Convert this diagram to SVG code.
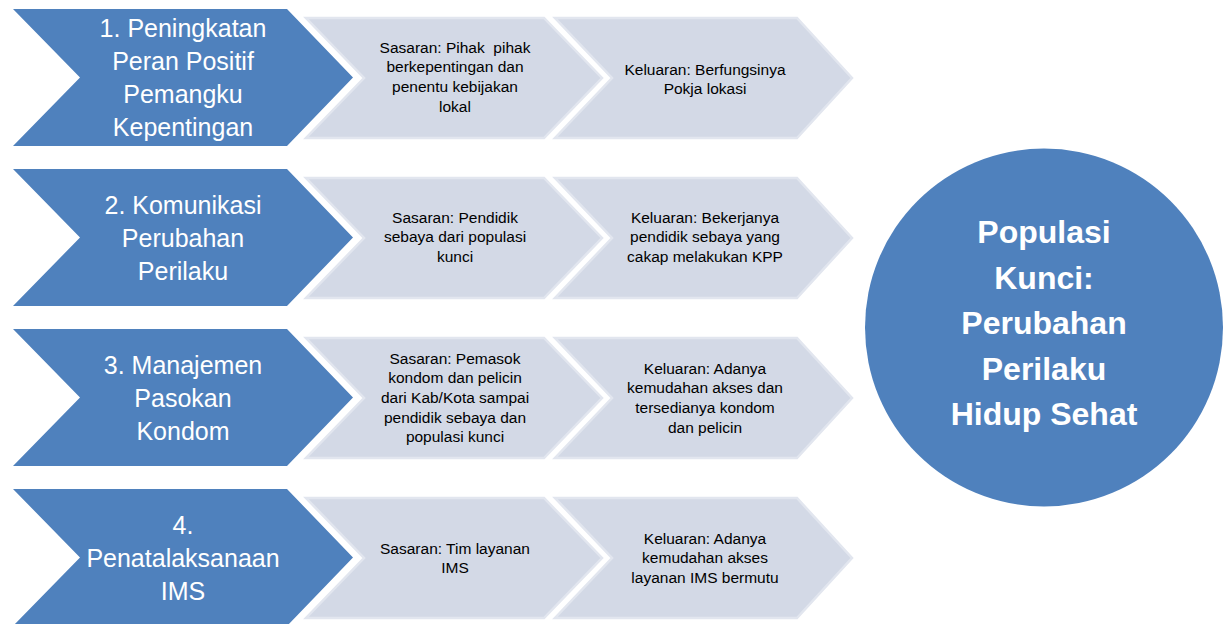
<svg xmlns="http://www.w3.org/2000/svg" width="1226" height="624" viewBox="0 0 1226 624">
<style>
.blue{fill:#4f81bd;}
.grey{fill:#d3d9e6;stroke:#e2e6ef;stroke-width:2.5;stroke-linejoin:miter;}
.bt{font-family:"Liberation Sans",Arial,sans-serif;font-size:25px;fill:#ffffff;text-anchor:middle;}
.gt{font-family:"Liberation Sans",Arial,sans-serif;font-size:15.5px;fill:#000000;text-anchor:middle;}
.ct{font-family:"Liberation Sans",Arial,sans-serif;font-size:32px;font-weight:bold;fill:#ffffff;text-anchor:middle;}
</style>
<defs>
<path id="bchev" d="M13,9 L287,9 L353,77.5 L287,146 L13,146 L80,77.5 Z"/>
<path id="g1chev" d="M306,18 L544,18 L602,78 L544,138 L306,138 L364,78 Z"/>
<path id="g2chev" d="M555,18 L797,18 L852,78 L797,138 L555,138 L612,78 Z"/>
</defs>
<rect width="1226" height="624" fill="#ffffff"/>

<g id="row1">
<g id="step1"><use href="#bchev" class="blue"/>
<text class="bt"><tspan x="183" y="37">1. Peningkatan</tspan><tspan x="183" y="70">Peran Positif</tspan><tspan x="183" y="103">Pemangku</tspan><tspan x="183" y="136">Kepentingan</tspan></text></g>
<g id="sasaran1"><use href="#g1chev" class="grey"/>
<text class="gt" xml:space="preserve"><tspan x="455" y="52.5">Sasaran: Pihak  pihak</tspan><tspan x="455" y="72.2">berkepentingan dan</tspan><tspan x="455" y="91.9">penentu kebijakan</tspan><tspan x="455" y="111.6">lokal</tspan></text></g>
<g id="keluaran1"><use href="#g2chev" class="grey"/>
<text class="gt"><tspan x="705" y="74.5">Keluaran: Berfungsinya</tspan><tspan x="705" y="94">Pokja lokasi</tspan></text></g>
</g>

<g id="row2" transform="translate(0,160)">
<g id="step2"><use href="#bchev" class="blue"/>
<text class="bt"><tspan x="183" y="53.5">2. Komunikasi</tspan><tspan x="183" y="86.5">Perubahan</tspan><tspan x="183" y="119.5">Perilaku</tspan></text></g>
<g id="sasaran2"><use href="#g1chev" class="grey"/>
<text class="gt"><tspan x="455" y="62.5">Sasaran: Pendidik</tspan><tspan x="455" y="82.2">sebaya dari populasi</tspan><tspan x="455" y="101.9">kunci</tspan></text></g>
<g id="keluaran2"><use href="#g2chev" class="grey"/>
<text class="gt"><tspan x="705" y="62.5">Keluaran: Bekerjanya</tspan><tspan x="705" y="82.2">pendidik sebaya yang</tspan><tspan x="705" y="101.9">cakap melakukan KPP</tspan></text></g>
</g>

<g id="row3" transform="translate(0,320)">
<g id="step3"><use href="#bchev" class="blue"/>
<text class="bt"><tspan x="183" y="53.5">3. Manajemen</tspan><tspan x="183" y="86.5">Pasokan</tspan><tspan x="183" y="119.5">Kondom</tspan></text></g>
<g id="sasaran3"><use href="#g1chev" class="grey"/>
<text class="gt"><tspan x="455" y="43.5">Sasaran: Pemasok</tspan><tspan x="455" y="63.2">kondom dan pelicin</tspan><tspan x="455" y="82.9">dari Kab/Kota sampai</tspan><tspan x="455" y="102.6">pendidik sebaya dan</tspan><tspan x="455" y="122.3">populasi kunci</tspan></text></g>
<g id="keluaran3"><use href="#g2chev" class="grey"/>
<text class="gt"><tspan x="705" y="53.5">Keluaran: Adanya</tspan><tspan x="705" y="73.2">kemudahan akses dan</tspan><tspan x="705" y="92.9">tersedianya kondom</tspan><tspan x="705" y="112.6">dan pelicin</tspan></text></g>
</g>

<g id="row4" transform="translate(0,480)">
<g id="step4"><use href="#bchev" class="blue"/>
<text class="bt"><tspan x="183" y="53.5">4.</tspan><tspan x="183" y="86.5">Penatalaksanaan</tspan><tspan x="183" y="119.5">IMS</tspan></text></g>
<g id="sasaran4"><use href="#g1chev" class="grey"/>
<text class="gt"><tspan x="455" y="73.5">Sasaran: Tim layanan</tspan><tspan x="455" y="93.2">IMS</tspan></text></g>
<g id="keluaran4"><use href="#g2chev" class="grey"/>
<text class="gt"><tspan x="705" y="63.5">Keluaran: Adanya</tspan><tspan x="705" y="83.2">kemudahan akses</tspan><tspan x="705" y="102.9">layanan IMS bermutu</tspan></text></g>
</g>

<g id="goal">
<circle cx="1044" cy="327.5" r="179" class="blue"/>
<text class="ct"><tspan x="1044" y="243">Populasi</tspan><tspan x="1044" y="288.5">Kunci:</tspan><tspan x="1044" y="334">Perubahan</tspan><tspan x="1044" y="379.5">Perilaku</tspan><tspan x="1044" y="425">Hidup Sehat</tspan></text>
</g>
<g id="connectors"/>
</svg>
